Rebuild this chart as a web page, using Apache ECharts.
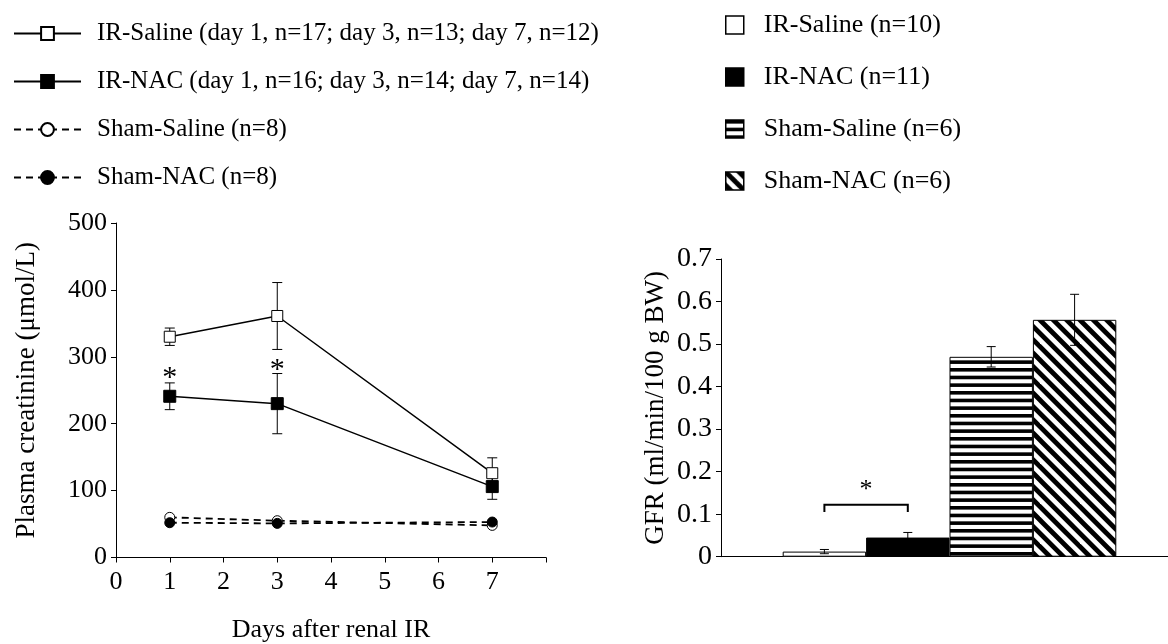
<!DOCTYPE html>
<html>
<head>
<meta charset="utf-8">
<script src="https://cdn.jsdelivr.net/npm/echarts@6/dist/echarts.min.js"></script>
<style>
  html, body { margin: 0; padding: 0; background: #fff; }
  #chart { width: 1168px; height: 644px; }
</style>
</head>
<body>
<div id="chart"></div>
<script>
const FONT = '"Liberation Serif", "Times New Roman", serif';

// Left panel: plasma creatinine over time
const days = [1, 3, 7];
const lineNames = [
    'IR-Saline (day 1, n=17; day 3, n=13; day 7, n=12)',
    'IR-NAC (day 1, n=16; day 3, n=14; day 7, n=14)',
    'Sham-Saline (n=8)',
    'Sham-NAC (n=8)'
];
const irSaline = [330, 361, 126];
const irSalineErr = [13, 50, 23];
const irNac = [241, 230, 106];
const irNacErr = [20, 45, 19];
const shamSaline = [60, 55, 48];
const shamNac = [52, 51, 53];
const starDays = [1, 3];
const starValues = [276, 287];

// Right panel: GFR bars
const barNames = ['IR-Saline (n=10)', 'IR-NAC (n=11)', 'Sham-Saline (n=6)', 'Sham-NAC (n=6)'];
const gfrValues = [0.012, 0.045, 0.470, 0.557];
const gfrErr = [0.005, 0.012, 0.024, 0.060];
// bracket between bar 0 and bar 1: top, leg bottom, asterisk
const bracket = [0.122, 0.105, 0.166];

const BAR_GAP = 0.27;

function stripePattern() {
    const c = document.createElement('canvas');
    c.width = 4; c.height = 23;
    const ctx = c.getContext('2d');
    ctx.fillStyle = '#fff';
    ctx.fillRect(0, 0, 4, 23);
    ctx.fillStyle = '#000';
    for (let k = 0; k < 3; k++) {
        ctx.fillRect(0, k * 23 / 3, 4, 3.6);
    }
    return c;
}

function diagonalPattern() {
    const size = 40;
    const p = size / 3;
    const c = document.createElement('canvas');
    c.width = size; c.height = size;
    const ctx = c.getContext('2d');
    ctx.fillStyle = '#fff';
    ctx.fillRect(0, 0, size, size);
    ctx.strokeStyle = '#000';
    ctx.lineWidth = 4.8;
    for (let k = -4; k <= 4; k++) {
        ctx.beginPath();
        ctx.moveTo(k * p - 5, -5);
        ctx.lineTo(k * p + size + 5, size + 5);
        ctx.stroke();
    }
    return c;
}

const barColors = [
    '#ffffff',
    '#000000',
    { image: stripePattern(), repeat: 'repeat' },
    { image: diagonalPattern(), repeat: 'repeat' }
];

function errorBar(params, api) {
    const x = api.value(0), y = api.value(1), e = api.value(2);
    const hi = api.coord([x, y + e]);
    const lo = api.coord([x, y - e]);
    const hw = 5;
    const st = { stroke: '#000', lineWidth: 1 };
    return {
        type: 'group',
        children: [
            { type: 'line', shape: { x1: hi[0], y1: hi[1], x2: lo[0], y2: lo[1] }, style: st },
            { type: 'line', shape: { x1: hi[0] - hw, y1: hi[1], x2: hi[0] + hw, y2: hi[1] }, style: st },
            { type: 'line', shape: { x1: lo[0] - hw, y1: lo[1], x2: lo[0] + hw, y2: lo[1] }, style: st }
        ]
    };
}

function barCenter(api, idx, value) {
    const c = api.coord([0, value]);
    const band = api.size([1, 0])[0];
    const w = band * (1 - BAR_GAP) / 4;
    return [c[0] + (idx - 1.5) * w, c[1]];
}

function barErrorBar(params, api) {
    const v = api.value(1), e = api.value(2), idx = api.value(3);
    const hi = barCenter(api, idx, v + e);
    const lo = barCenter(api, idx, v - e);
    const hw = 4.5;
    const st = { stroke: '#000', lineWidth: 1 };
    return {
        type: 'group',
        children: [
            { type: 'line', shape: { x1: hi[0], y1: hi[1], x2: lo[0], y2: lo[1] }, style: st },
            { type: 'line', shape: { x1: hi[0] - hw, y1: hi[1], x2: hi[0] + hw, y2: hi[1] }, style: st },
            { type: 'line', shape: { x1: lo[0] - hw, y1: lo[1], x2: lo[0] + hw, y2: lo[1] }, style: st }
        ]
    };
}

function bracketItem(params, api) {
    const top = api.value(1), leg = api.value(2), star = api.value(3);
    const a = barCenter(api, 0, top), b = barCenter(api, 1, top);
    const la = barCenter(api, 0, leg), lb = barCenter(api, 1, leg);
    const s = barCenter(api, 0.5, star);
    return {
        type: 'group',
        children: [
            {
                type: 'polyline',
                shape: { points: [[la[0], la[1]], [a[0], a[1]], [b[0], b[1]], [lb[0], lb[1]]] },
                style: { stroke: '#000', lineWidth: 2, fill: null }
            },
            {
                type: 'text', x: s[0], y: s[1] + 4,
                style: { text: '*', fontSize: 26, fontFamily: FONT, fill: '#000', align: 'center', verticalAlign: 'middle' }
            }
        ]
    };
}

function starItem(params, api) {
    const pt = api.coord([api.value(0), api.value(1)]);
    return {
        type: 'text', x: pt[0], y: pt[1] + 5,
        style: { text: '*', fontSize: 30, fontFamily: FONT, fill: '#000', align: 'center', verticalAlign: 'middle' }
    };
}

const zip = (xs, ys) => xs.map((x, i) => [x, ys[i]]);
const zip3 = (xs, ys, es) => xs.map((x, i) => [x, ys[i], es[i]]);

const axisLine = { lineStyle: { color: '#000', width: 1 } };

const option = {
    animation: false,
    backgroundColor: '#fff',
    textStyle: { fontFamily: FONT, color: '#000' },
    legend: [
        {
            data: lineNames,
            orient: 'vertical',
            left: 8,
            top: 16,
            itemWidth: 67,
            itemHeight: 16,
            itemGap: 23,
            selectedMode: false,
            textStyle: { fontFamily: FONT, fontSize: 25, lineHeight: 25, color: '#000', padding: [0, 0, 0, 11] }
        },
        {
            data: barNames.map(n => ({ name: n, icon: 'rect' })),
            orient: 'vertical',
            left: 720,
            top: 7,
            itemWidth: 18,
            itemHeight: 18,
            itemGap: 26,
            selectedMode: false,
            itemStyle: { borderColor: '#000', borderWidth: 1.5 },
            textStyle: { fontFamily: FONT, fontSize: 26, lineHeight: 26, color: '#000', padding: [0, 0, 0, 15] }
        }
    ],
    grid: [
        { left: 116, right: 622, top: 223, bottom: 86.5, outerBoundsMode: 'none' },
        { left: 721, right: -10, top: 259, bottom: 87.3, outerBoundsMode: 'none' }
    ],
    xAxis: [
        {
            type: 'value', gridIndex: 0, min: 0, max: 8, interval: 1,
            splitLine: { show: false },
            axisLine: axisLine,
            axisTick: { show: true, inside: false, length: 5, lineStyle: { color: '#000' } },
            axisLabel: {
                fontFamily: FONT, fontSize: 26, color: '#000', margin: 12,
                formatter: v => (v === 8 ? '' : String(v))
            },
            name: 'Days after renal IR',
            nameLocation: 'middle',
            nameGap: 60,
            nameTextStyle: { fontFamily: FONT, fontSize: 26, color: '#000' }
        },
        {
            type: 'category', gridIndex: 1, data: [''],
            axisLine: axisLine,
            axisTick: { show: false },
            axisLabel: { show: false }
        }
    ],
    yAxis: [
        {
            type: 'value', gridIndex: 0, min: 0, max: 500, interval: 100,
            splitLine: { show: false },
            axisLine: { show: true, lineStyle: { color: '#000', width: 1 } },
            axisTick: { show: true, inside: false, length: 5, lineStyle: { color: '#000' } },
            axisLabel: { fontFamily: FONT, fontSize: 26, color: '#000', margin: 9 },
            name: 'Plasma creatinine (μmol/L)',
            nameLocation: 'middle',
            nameGap: 76,
            nameTextStyle: { fontFamily: FONT, fontSize: 27, color: '#000' }
        },
        {
            type: 'value', gridIndex: 1, min: 0, max: 0.7, interval: 0.1,
            splitLine: { show: false },
            axisLine: { show: true, lineStyle: { color: '#000', width: 1 } },
            axisTick: { show: true, inside: false, length: 5, lineStyle: { color: '#000' } },
            axisLabel: {
                fontFamily: FONT, fontSize: 28, color: '#000', margin: 9,
                formatter: v => (v === 0 ? '0' : v.toFixed(1))
            },
            name: 'GFR (ml/min/100 g BW)',
            nameLocation: 'middle',
            nameGap: 52,
            nameTextStyle: { fontFamily: FONT, fontSize: 27, color: '#000' }
        }
    ],
    series: [
        // error bars under the markers
        {
            type: 'custom', xAxisIndex: 0, yAxisIndex: 0, z: 1,
            renderItem: errorBar, data: zip3(days, irSaline, irSalineErr)
        },
        {
            type: 'custom', xAxisIndex: 0, yAxisIndex: 0, z: 1,
            renderItem: errorBar, data: zip3(days, irNac, irNacErr)
        },
        {
            name: lineNames[2], type: 'line', xAxisIndex: 0, yAxisIndex: 0, z: 3,
            data: zip(days, shamSaline),
            symbol: 'circle', symbolSize: 10,
            lineStyle: { color: '#000', width: 1.8, type: [7, 5] },
            itemStyle: { color: '#fff', borderColor: '#000', borderWidth: 1 }
        },
        {
            name: lineNames[3], type: 'line', xAxisIndex: 0, yAxisIndex: 0, z: 3,
            data: zip(days, shamNac),
            symbol: 'circle', symbolSize: 10,
            lineStyle: { color: '#000', width: 1.8, type: [7, 5] },
            itemStyle: { color: '#000', borderColor: '#000', borderWidth: 1 }
        },
        {
            name: lineNames[0], type: 'line', xAxisIndex: 0, yAxisIndex: 0, z: 4,
            data: zip(days, irSaline),
            symbol: 'rect', symbolSize: [11, 11],
            lineStyle: { color: '#000', width: 1.5 },
            itemStyle: { color: '#fff', borderColor: '#000', borderWidth: 1 }
        },
        {
            name: lineNames[1], type: 'line', xAxisIndex: 0, yAxisIndex: 0, z: 4,
            data: zip(days, irNac),
            symbol: 'rect', symbolSize: [12, 12],
            lineStyle: { color: '#000', width: 1.5 },
            itemStyle: { color: '#000', borderColor: '#000', borderWidth: 1 }
        },
        {
            type: 'custom', xAxisIndex: 0, yAxisIndex: 0, z: 5,
            renderItem: starItem, data: zip(starDays, starValues)
        },
        // GFR bars
        ...barNames.map((name, i) => ({
            name: name, type: 'bar', xAxisIndex: 1, yAxisIndex: 1,
            data: [gfrValues[i]],
            barGap: '0%', barCategoryGap: (BAR_GAP * 100) + '%',
            itemStyle: { color: barColors[i], borderColor: '#000', borderWidth: 1 }
        })),
        {
            type: 'custom', xAxisIndex: 1, yAxisIndex: 1, z: 5,
            renderItem: barErrorBar,
            data: gfrValues.map((v, i) => [0, v, gfrErr[i], i])
        },
        {
            type: 'custom', xAxisIndex: 1, yAxisIndex: 1, z: 5,
            renderItem: bracketItem,
            data: [[0, bracket[0], bracket[1], bracket[2]]]
        }
    ]
};

const myChart = echarts.init(document.getElementById('chart'));
myChart.setOption(option);
</script>
</body>
</html>
